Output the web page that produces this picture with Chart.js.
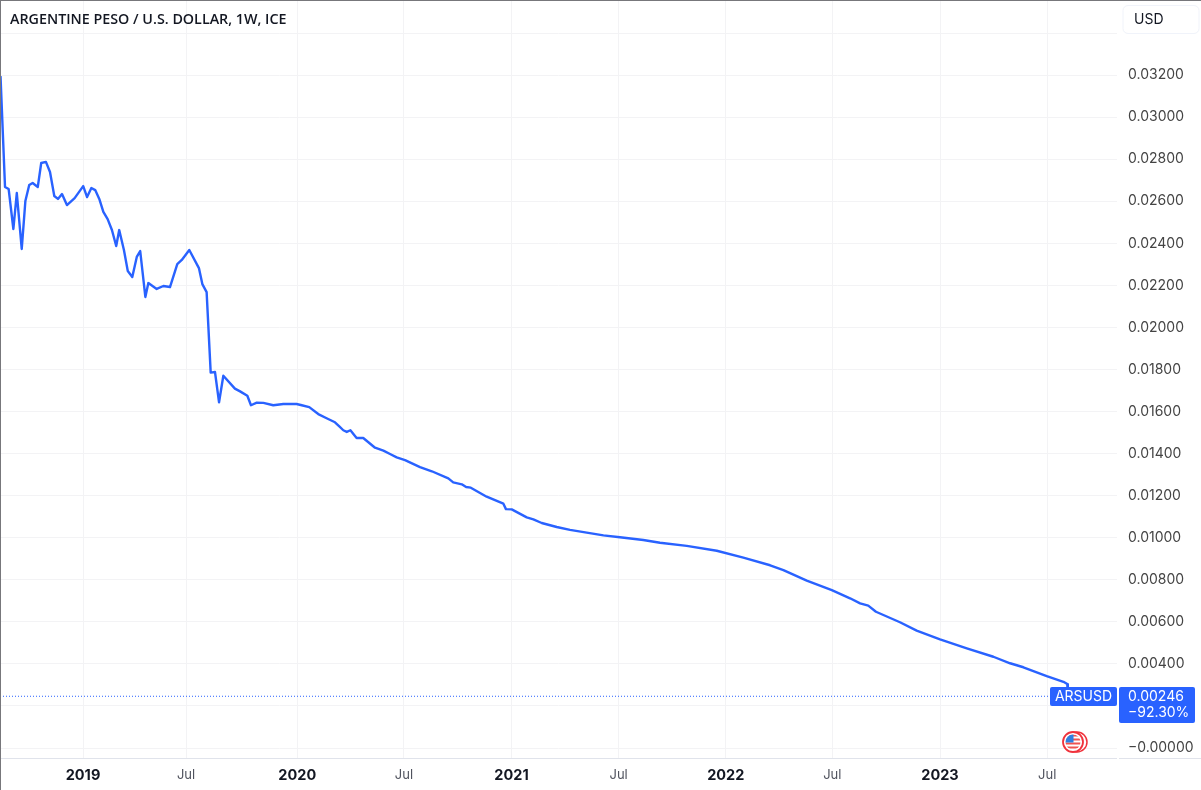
<!DOCTYPE html>
<html>
<head>
<meta charset="utf-8">
<title>ARSUSD</title>
<script src="https://cdn.jsdelivr.net/npm/chart.js@4/dist/chart.umd.min.js"></script>
<style>
  html, body { margin: 0; padding: 0; background: #fff; }
  canvas { display: block; }
</style>
</head>
<body>
<canvas id="chart" width="1201" height="790"></canvas>
<script>
const chartTitle = 'ARGENTINE PESO / U.S. DOLLAR, 1W, ICE';
const currency = 'USD';
const symbol = 'ARSUSD';
const lastPrice = 0.00246;
const changeText = '\u221292.30%';

const xTickYears = [2019, 2019.481, 2020, 2020.498, 2021, 2021.5, 2022, 2022.497, 2023, 2023.5];
const xTickLabels = ['2019', 'Jul', '2020', 'Jul', '2021', 'Jul', '2022', 'Jul', '2023', 'Jul'];
const yTickValues = [0, 0.002, 0.004, 0.006, 0.008, 0.01, 0.012, 0.014, 0.016, 0.018,
  0.02, 0.022, 0.024, 0.026, 0.028, 0.03, 0.032, 0.034];

const seriesYears = [
  2018.615, 2018.636, 2018.653, 2018.675, 2018.691, 2018.714, 2018.731, 2018.749, 2018.765, 2018.789,
  2018.805, 2018.827, 2018.846, 2018.866, 2018.883, 2018.902, 2018.925, 2018.961, 2019.001, 2019.019,
  2019.039, 2019.057, 2019.076, 2019.095, 2019.115, 2019.135, 2019.155, 2019.169, 2019.191, 2019.209,
  2019.230, 2019.251, 2019.267, 2019.291, 2019.305, 2019.344, 2019.375, 2019.406, 2019.440, 2019.461,
  2019.496, 2019.541, 2019.557, 2019.577, 2019.596, 2019.616, 2019.635, 2019.655, 2019.709, 2019.733,
  2019.767, 2019.784, 2019.811, 2019.842, 2019.888, 2019.935, 2019.997, 2020.021, 2020.056, 2020.098,
  2020.137, 2020.176, 2020.195, 2020.215, 2020.231, 2020.248, 2020.277, 2020.308, 2020.363, 2020.402,
  2020.433, 2020.464, 2020.503, 2020.573, 2020.628, 2020.705, 2020.728, 2020.768, 2020.788, 2020.810,
  2020.884, 2020.962, 2020.974, 2021.001, 2021.071, 2021.102, 2021.141, 2021.211, 2021.273, 2021.351,
  2021.429, 2021.506, 2021.615, 2021.693, 2021.818, 2021.958, 2022.082, 2022.207, 2022.269, 2022.378,
  2022.495, 2022.580, 2022.627, 2022.665, 2022.701, 2022.813, 2022.891, 2023.000, 2023.125, 2023.249,
  2023.327, 2023.389, 2023.498, 2023.576, 2023.594, 2023.596, 2023.597
];
const seriesValues = [
  0.03195, 0.02668, 0.02658, 0.02468, 0.02639, 0.02373, 0.02601, 0.02677, 0.02687, 0.02668,
  0.02782, 0.02787, 0.02739, 0.02625, 0.02611, 0.02634, 0.02582, 0.02615, 0.02672, 0.02620,
  0.02663, 0.02653, 0.02611, 0.02549, 0.02515, 0.02463, 0.02387, 0.02463, 0.02368, 0.02268,
  0.02240, 0.02335, 0.02363, 0.02145, 0.02211, 0.02183, 0.02197, 0.02192, 0.02301, 0.02321,
  0.02368, 0.02282, 0.02206, 0.02168, 0.01785, 0.01788, 0.01644, 0.01770, 0.01709, 0.01696,
  0.01675, 0.01630, 0.01642, 0.01641, 0.01630, 0.01636, 0.01636, 0.01630, 0.01621, 0.01588,
  0.01568, 0.01549, 0.01531, 0.01511, 0.01503, 0.01511, 0.01474, 0.01474, 0.01428, 0.01414,
  0.01398, 0.01382, 0.01369, 0.01336, 0.01316, 0.01282, 0.01263, 0.01254, 0.01241, 0.01238,
  0.01195, 0.01162, 0.01136, 0.01135, 0.01097, 0.01087, 0.01070, 0.01051, 0.01037, 0.01024,
  0.01011, 0.01002, 0.00989, 0.00976, 0.00961, 0.00938, 0.00905, 0.00869, 0.00846, 0.00796,
  0.00751, 0.00712, 0.00688, 0.00677, 0.00648, 0.00598, 0.00558, 0.00517, 0.00474, 0.00434,
  0.00403, 0.00384, 0.00342, 0.00315, 0.00304, 0.00291, 0.00246
];

const BLUE = '#2962ff';
const UI_FONT = 'Inter, "Noto Sans", sans-serif';

function roundBox(ctx, x, y, w, h, r, fill, stroke) {
  ctx.beginPath();
  ctx.roundRect(x, y, w, h, r);
  ctx.fillStyle = fill;
  ctx.fill();
  if (stroke) {
    ctx.strokeStyle = stroke;
    ctx.stroke();
  }
}

function drawFlag(ctx, cx, cy) {
  // back coin
  ctx.beginPath();
  ctx.arc(cx + 4, cy, 10, 0, Math.PI * 2);
  ctx.fillStyle = '#fff';
  ctx.fill();
  ctx.lineWidth = 1.5;
  ctx.strokeStyle = '#f0323c';
  ctx.stroke();
  // front coin
  ctx.beginPath();
  ctx.arc(cx, cy, 10, 0, Math.PI * 2);
  ctx.fillStyle = '#fff';
  ctx.fill();
  ctx.lineWidth = 1.8;
  ctx.stroke();
  ctx.save();
  ctx.beginPath();
  ctx.arc(cx, cy, 7.5, 0, Math.PI * 2);
  ctx.clip();
  ctx.fillStyle = '#fff';
  ctx.fillRect(cx - 8, cy - 8, 16, 16);
  ctx.fillStyle = '#ef5350';
  for (let i = 0; i < 4; i++) {
    ctx.fillRect(cx - 8, cy - 7.5 + i * 4, 16, 2);
  }
  ctx.fillStyle = '#2f7fe0';
  ctx.fillRect(cx - 8, cy - 8, 8.5, 8.5);
  ctx.restore();
}

const overlays = {
  id: 'overlays',
  afterDraw(chart) {
    const ctx = chart.ctx;
    const yScale = chart.scales.y;
    const priceY = Math.round(yScale.getPixelForValue(lastPrice));
    ctx.save();

    // frame
    ctx.fillStyle = '#e0e3eb';
    ctx.fillRect(0, 758, 1117, 1);
    ctx.fillRect(1119, 758, 82, 1);
    ctx.fillStyle = '#77777b';
    ctx.fillRect(0, 0, 1201, 1);
    ctx.fillRect(0, 0, 1, 790);

    // title
    ctx.fillStyle = '#131722';
    ctx.font = '600 14.3px "Open Sans", sans-serif';
    ctx.textAlign = 'left';
    ctx.textBaseline = 'middle';
    ctx.fillText(chartTitle, 10, 19.5);

    // currency button, hides the top axis label
    ctx.fillStyle = '#fff';
    ctx.fillRect(1119, 1, 82, 37);
    ctx.lineWidth = 1;
    roundBox(ctx, 1123, 5.5, 76, 28, 5, '#fff', '#f0f3fa');
    ctx.fillStyle = '#131722';
    ctx.font = '14px ' + UI_FONT;
    ctx.fillText(currency, 1134, 20);

    // symbol and price labels
    roundBox(ctx, 1050, priceY - 9, 67, 19, 2, BLUE);
    roundBox(ctx, 1119, priceY - 9, 76, 36, 2, BLUE);
    ctx.fillStyle = '#fff';
    ctx.font = '14px ' + UI_FONT;
    ctx.textAlign = 'center';
    ctx.fillText(symbol, 1083.5, priceY + 1);
    ctx.textAlign = 'left';
    ctx.fillText(lastPrice.toFixed(5), 1128, priceY + 1);
    ctx.fillText(changeText, 1128, priceY + 17);

    drawFlag(ctx, 1073, 742);
    ctx.restore();
  }
};

new Chart(document.getElementById('chart'), {
  type: 'line',
  data: {
    datasets: [{
      data: seriesYears.map((x, i) => ({ x: x, y: seriesValues[i] })),
      borderColor: BLUE,
      borderWidth: 2.4,
      borderJoinStyle: 'round',
      pointRadius: 0,
      tension: 0
    }, {
      data: [{ x: 2018.6126, y: lastPrice }, { x: 2023.6, y: lastPrice }],
      borderColor: BLUE,
      borderWidth: 1,
      borderDash: [1, 2],
      pointRadius: 0
    }]
  },
  options: {
    responsive: false,
    animation: false,
    layout: { padding: 0 },
    plugins: { legend: { display: false }, tooltip: { enabled: false } },
    scales: {
      x: {
        type: 'linear',
        min: 2018.6126,
        max: 2023.826,
        afterBuildTicks(scale) {
          scale.ticks = xTickYears.map(v => ({ value: v }));
        },
        afterFit(scale) { scale.height = 32; },
        border: { display: false },
        grid: { color: '#f3f3f5', drawTicks: false },
        ticks: {
          autoSkip: false,
          maxRotation: 0,
          padding: 9,
          callback: (v, i) => xTickLabels[i],
          color: ctx => (xTickLabels[ctx.index] === 'Jul' ? '#50535e' : '#131722'),
          font: ctx => (xTickLabels[ctx.index] === 'Jul'
            ? { family: UI_FONT, size: 13 }
            : { family: UI_FONT, size: 14.5, weight: '700' })
        }
      },
      y: {
        position: 'right',
        min: -0.000475,
        max: 0.03557,
        afterBuildTicks(scale) {
          scale.ticks = yTickValues.map(v => ({ value: v }));
        },
        afterFit(scale) {
          scale.width = 84;
          // no room kept for the end labels, the plot runs to the canvas top
          scale.paddingTop = 0;
          scale.paddingBottom = 0;
        },
        border: { display: false },
        grid: { color: '#f3f3f5', drawTicks: false },
        ticks: {
          autoSkip: false,
          padding: 11,
          color: '#444',
          font: { family: UI_FONT, size: 14 },
          callback: v => (v === 0 ? '\u22120.00000' : v.toFixed(5))
        }
      }
    }
  },
  plugins: [overlays]
});
</script>
</body>
</html>
